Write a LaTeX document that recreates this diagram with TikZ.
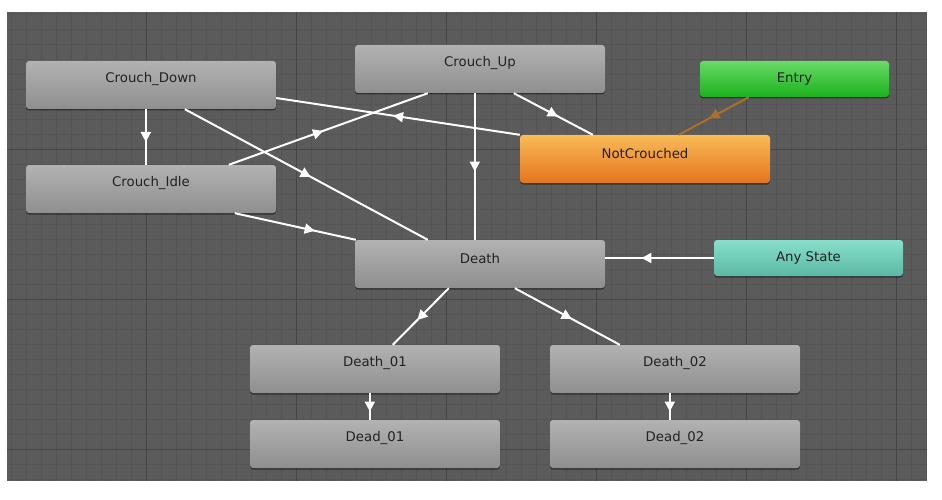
\documentclass[tikz,border=0pt]{standalone}
\usepackage{fontspec}
\setmainfont{DejaVu Sans}
\usetikzlibrary{arrows.meta,decorations.markings,shadows,calc}
\definecolor{bgc}{HTML}{5B5B5B}
\definecolor{gridminor}{HTML}{545454}
\definecolor{gridmajor}{HTML}{464646}
\definecolor{ntop}{HTML}{B2B2B2}
\definecolor{nbot}{HTML}{8F8F8F}
\definecolor{otop}{HTML}{F9BC58}
\definecolor{obot}{HTML}{E4741C}
\definecolor{gtop}{HTML}{68DB68}
\definecolor{gbot}{HTML}{1CB01C}
\definecolor{ttop}{HTML}{88DEC9}
\definecolor{tbot}{HTML}{5BB9A4}
\definecolor{txt}{HTML}{222222}
\definecolor{entryline}{HTML}{A8702C}
\begin{document}
\begin{tikzpicture}[x=1pt,y=-1pt,
  stbox/.style={draw=none, rounded corners=3pt, minimum width=250pt, minimum height=48pt,
    inner sep=0pt, top color=ntop, bottom color=nbot,
    drop shadow={shadow xshift=0pt, shadow yshift=-1.5pt, opacity=0.45, fill=black}},
  smallbox/.style={stbox, minimum width=189pt, minimum height=36pt},
  lbl/.style={label={[anchor=center, yshift=-18.5pt, text=txt, font=\fontsize{13.3}{15}\selectfont]north:#1}},
  trans/.style={draw=white, line width=2pt, postaction={decorate},
    decoration={markings, mark=at position #1 with {\arrow[xshift=5pt]{Triangle[length=10pt,width=10pt]}}}},
  trans/.default=0.5]
\useasboundingbox (0,0) rectangle (942,500);
\fill[white] (0,0) rectangle (942,500);
\fill[bgc] (7,12) rectangle (927,481);
\begin{scope}
\clip (7,12) rectangle (927,481);
\foreach \i in {0,...,61} {\draw[gridminor, line width=0.8pt] ({11+15*\i},12) -- ({11+15*\i},481);}
\foreach \i in {0,...,31} {\draw[gridminor, line width=0.8pt] (7,{14+15*\i}) -- (927,{14+15*\i});}
\foreach \i in {0,...,5} {\draw[gridmajor, line width=1pt] ({146+150*\i},12) -- ({146+150*\i},481);}
\foreach \i in {0,...,2} {\draw[gridmajor, line width=1pt] (7,{149+150*\i}) -- (927,{149+150*\i});}
\end{scope}

\node[stbox, lbl=Crouch\_Down] (cd) at (151,85) {};
\node[stbox, lbl=Crouch\_Idle] (ci) at (151,189) {};
\node[stbox, lbl=Crouch\_Up] (cu) at (480,69) {};
\node[smallbox, top color=gtop, bottom color=gbot, lbl=Entry] (en) at (794.5,79) {};
\node[stbox, top color=otop, bottom color=obot, lbl=NotCrouched] (nc) at (645,159) {};
\node[stbox, lbl=Death] (de) at (480,264) {};
\node[smallbox, top color=ttop, bottom color=tbot, lbl=Any State] (an) at (808.5,258) {};
\node[stbox, lbl=Death\_01] (d1) at (375,369) {};
\node[stbox, lbl=Death\_02] (d2) at (675,369) {};
\node[stbox, lbl=Dead\_01] (x1) at (375,444) {};
\node[stbox, lbl=Dead\_02] (x2) at (675,444) {};

% transitions
\draw[trans] ([xshift=120pt]cd.south west) -- ([xshift=120pt]ci.north west);
\draw[trans] ([xshift=159pt]cd.south west) -- ([xshift=73pt]de.north west);
\draw[trans=0.45] ([xshift=203pt]ci.north west) -- ([xshift=73pt]cu.south west);
\draw[trans] (nc.north west) -- ([yshift=-13pt]cd.east);
\draw[trans] ([xshift=159pt]cu.south west) -- ([xshift=73pt]nc.north west);
\draw[trans] ([xshift=120pt]cu.south west) -- ([xshift=120pt]de.north west);
\draw[trans=0.62] ([xshift=209pt]ci.south west) -- ([xshift=1pt]de.north west);
\draw[trans, draw=entryline] ([xshift=49pt]en.south west) -- ([xshift=159pt]nc.north west);
\draw[trans=0.62] (an.west) -- (an.west -| de.east);
\draw[trans] ([xshift=94pt]de.south west) -- ([xshift=143pt]d1.north west);
\draw[trans] ([xshift=160pt]de.south west) -- ([xshift=70pt]d2.north west);
\draw[trans] ([xshift=120pt]d1.south west) -- ([xshift=120pt]x1.north west);
\draw[trans] ([xshift=120pt]d2.south west) -- ([xshift=120pt]x2.north west);
\end{tikzpicture}
\end{document}
